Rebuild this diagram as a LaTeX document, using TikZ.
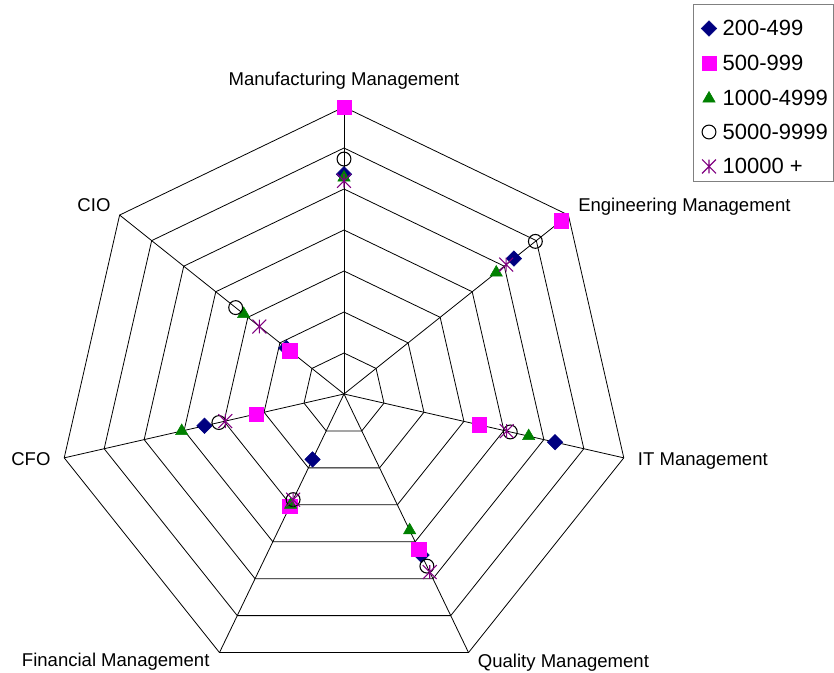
\documentclass[tikz,border=0pt]{standalone}
\usepackage{fontspec}
\setmainfont{Liberation Sans}
\usepackage{tikz}
\usetikzlibrary{plotmarks}

% X with a vertical bar, as the 10000+ marker
\pgfdeclareplotmark{xbar}{%
  \pgfpathmoveto{\pgfqpoint{0pt}{\pgfplotmarksize}}%
  \pgfpathlineto{\pgfqpoint{0pt}{-\pgfplotmarksize}}%
  \pgfpathmoveto{\pgfqpoint{-\pgfplotmarksize}{\pgfplotmarksize}}%
  \pgfpathlineto{\pgfqpoint{\pgfplotmarksize}{-\pgfplotmarksize}}%
  \pgfpathmoveto{\pgfqpoint{-\pgfplotmarksize}{-\pgfplotmarksize}}%
  \pgfpathlineto{\pgfqpoint{\pgfplotmarksize}{\pgfplotmarksize}}%
  \pgfusepathqstroke}

\begin{document}
\begin{tikzpicture}[x=0.75pt, y=0.75pt,
  axislabel/.style={font=\fontsize{13.9}{16}\selectfont, inner sep=0pt},
  legtext/.style={font=\fontsize{16.5}{20}\selectfont, inner sep=0pt, anchor=base west},
  gridline/.style={line width=0.6pt, black},
  ser200/.style={mark=square*, mark size=4.1pt, mark options={rotate=45, draw=sernavy, fill=sernavy}},
  ser500/.style={mark=square*, mark size=5.4pt, mark options={draw=sermagenta, fill=sermagenta}},
  ser1000/.style={mark=triangle*, mark size=5.3pt, mark options={draw=sergreen, fill=sergreen}},
  ser5000/.style={mark=o, mark size=5.2pt, mark options={draw=black, line width=0.8pt}},
  ser10000/.style={mark=xbar, mark size=5.2pt, mark options={draw=serpurple, line width=0.8pt}}]
  % Series colours
  \definecolor{sernavy}{RGB}{0,0,128}       % 200-499
  \definecolor{sermagenta}{RGB}{255,0,255}  % 500-999
  \definecolor{sergreen}{RGB}{0,128,0}      % 1000-4999
  \definecolor{serpurple}{RGB}{128,0,128}   % 10000 +
  \definecolor{legendgray}{RGB}{128,128,128}

  \useasboundingbox (-344,-279) rectangle (490,394);

  % Web: seven rings and seven spokes
  \begin{scope}[x=3.075pt, y=3.075pt]
    \foreach \r in {10,20,...,70}
      \draw[gridline] (90:\r) \foreach \k in {1,...,6} { -- (90-\k*360/7:\r) } -- cycle;
    \foreach \k in {0,...,6}
      \draw[gridline] (0,0) -- (90-\k*360/7:70);

    % Data points
    \draw[ser200] plot[only marks] coordinates {(90:53.6) (38.571:53.0) (-12.857:52.8) (-64.286:43.6) (-115.714:17.7) (192.857:34.9) (141.429:18.0)};
    \draw[ser500] plot[only marks] coordinates {(90:70) (38.571:67.7) (-12.857:33.8) (-64.286:42.0) (-115.714:30.4) (192.857:22.0) (141.429:16.9)};
    \draw[ser1000] plot[only marks] coordinates {(90:52.8) (38.571:47.5) (-12.857:46.2) (-64.286:36.9) (-115.714:30.0) (192.857:40.6) (141.429:31.3)};
    \draw[ser5000] plot[only marks] coordinates {(90:57.3) (38.571:59.7) (-12.857:41.6) (-64.286:46.6) (-115.714:28.6) (192.857:31.3) (141.429:33.8)};
    \draw[ser10000] plot[only marks] coordinates {(90:52.0) (38.571:50.6) (-12.857:40.7) (-64.286:48.2) (-115.714:28.6) (192.857:29.7) (141.429:26.4)};
  \end{scope}

  % Axis labels
  \node[axislabel, anchor=base] (labMan) at (0,308) {Manufacturing Management};
  \node[axislabel, anchor=base west] (labEng) at (234,182.3) {Engineering Management};
  \node[axislabel, anchor=base west] (labIT) at (293.7,-71.7) {IT Management};
  \node[axislabel, anchor=base west] (labQual) at (133.7,-273.3) {Quality Management};
  \node[axislabel, anchor=base west] (labFin) at (-322.3,-272.7) {Financial Management};
  \node[axislabel, anchor=base east] (labCFO) at (-293.3,-72) {CFO};
  \node[axislabel, anchor=base east] (labCIO) at (-233.3,182.3) {CIO};

  % Legend
  \draw[legendgray, line width=0.75pt] (349.3,389) rectangle (489.5,212.3);
  \draw[ser200] plot[only marks] coordinates {(365,365.5)};
  \draw[ser500] plot[only marks] coordinates {(365,331)};
  \draw[ser1000] plot[only marks] coordinates {(365,295.5)};
  \draw[ser5000] plot[only marks] coordinates {(365,262)};
  \draw[ser10000] plot[only marks] coordinates {(365,227.5)};
  \node[legtext] (leg200) at (378.3,358) {200-499};
  \node[legtext] (leg500) at (378.3,323.3) {500-999};
  \node[legtext] (leg1000) at (378.3,288.7) {1000-4999};
  \node[legtext] (leg5000) at (378.3,254.7) {5000-9999};
  \node[legtext] (leg10000) at (378.3,220) {10000 +};
\end{tikzpicture}
\end{document}
